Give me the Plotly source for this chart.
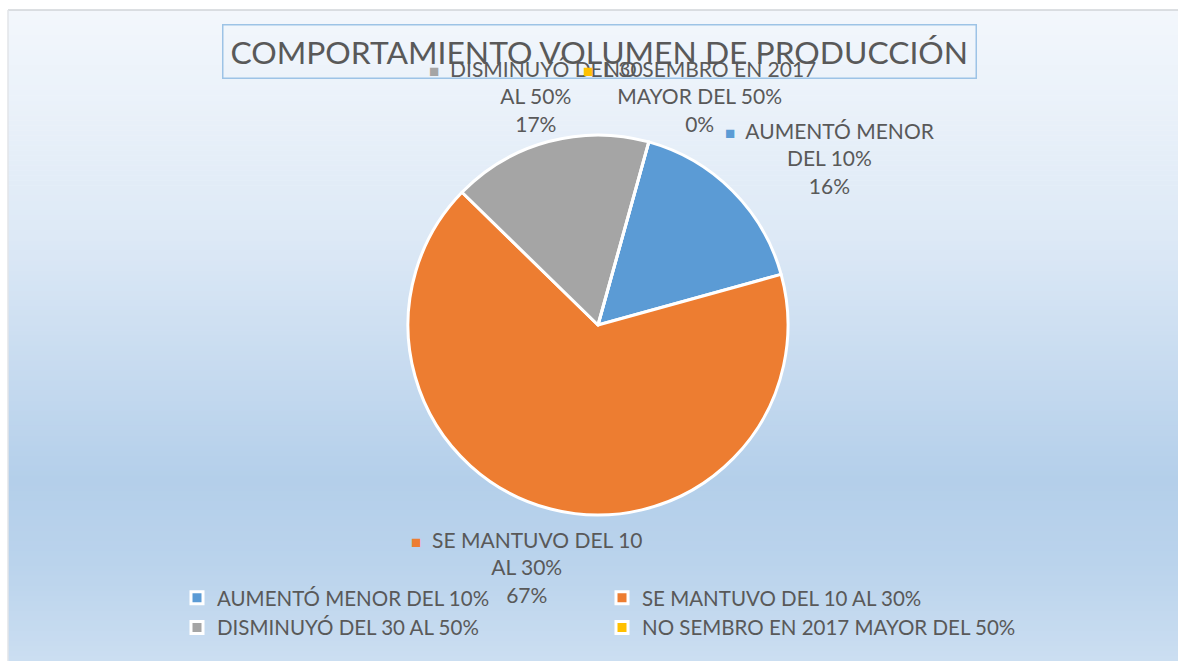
import plotly.graph_objects as go

# ---- data ----
categories = ["AUMENTÓ MENOR DEL 10%", "SE MANTUVO DEL 10 AL 30%",
              "DISMINUYÓ DEL 30 AL 50%", "NO SEMBRO EN 2017 MAYOR DEL 50%"]
values = [16.4, 66.6, 17.0, 0.0]
# wrapped versions of the category names, as shown in the data labels
label_lines = [["AUMENTÓ MENOR", "DEL 10%"],
               ["SE MANTUVO DEL 10", "AL 30%"],
               ["DISMINUYÓ DEL 30", "AL 50%"],
               ["NO SEMBRO EN 2017", "MAYOR DEL 50%"]]
colors = ["#5B9BD5", "#ED7D31", "#A5A5A5", "#FFC000"]
title = "COMPORTAMIENTO VOLUMEN DE PRODUCCIÓN"

W, H = 1178, 661
FONT = "Lato"
TXT = "#595959"

def px(x):
    return x / W

def py(y):
    return 1 - y / H

fig = go.Figure()
cx, cy, r = 598, 325, 190
fig.add_trace(go.Pie(
    labels=categories, values=values, sort=False, direction="clockwise",
    rotation=15.5, textinfo="none", hoverinfo="label+percent",
    marker=dict(colors=colors, line=dict(color="white", width=3)),
    domain=dict(x=[px(cx - r), px(cx + r)], y=[py(cy + r), py(cy - r)]),
))

# background gradient (chart area)
stops = [(0.0, (243, 247, 252)), (0.35, (221, 233, 246)), (0.72, (180, 207, 234)),
         (0.85, (186, 211, 236)), (1.0, (203, 222, 241))]

def grad(t):
    for (t0, c0), (t1, c1) in zip(stops[:-1], stops[1:]):
        if t0 <= t <= t1:
            f = (t - t0) / (t1 - t0) if t1 > t0 else 0
            return "rgb(%d,%d,%d)" % tuple(round(a + (b - a) * f) for a, b in zip(c0, c1))
    return "rgb(%d,%d,%d)" % stops[-1][1]

shapes = []
top, bot, left = 10, H, 8
n = 130
for i in range(n):
    y0 = top + (bot - top) * i / n
    y1 = top + (bot - top) * (i + 1) / n + 0.6
    shapes.append(dict(type="rect", xref="paper", yref="paper", layer="below",
                       x0=px(left), x1=1, y0=py(min(y1, H)), y1=py(y0),
                       line=dict(width=0), fillcolor=grad((i + 0.5) / n)))
shapes.append(dict(type="line", xref="paper", yref="paper", layer="below",
                   x0=px(left), x1=1, y0=py(top), y1=py(top),
                   line=dict(color="#D0D4D8", width=1.5)))
shapes.append(dict(type="line", xref="paper", yref="paper", layer="below",
                   x0=px(left), x1=px(left), y0=0, y1=py(top),
                   line=dict(color="#E2E5E8", width=1.5)))

annotations = []
# title in bordered box
annotations.append(dict(text=title, xref="paper", yref="paper", x=px(599), y=py(52),
                        showarrow=False, font=dict(family=FONT, size=31.8, color=TXT),
                        bordercolor="#9DC3E6", borderwidth=1.5, borderpad=7,
                        xanchor="center", yanchor="middle"))

# data labels
total = sum(values)
label_pos = [(830, 158), (527, 567), (536, 96), (700, 96)]
for cat_lines, v, col, (lx, ly) in zip(label_lines, values, colors, label_pos):
    pct = round(100 * v / total)
    txt = ("<span style='color:%s;font-size:17px'>■</span>  %s<br>%s<br>%d%%"
           % (col, cat_lines[0], cat_lines[1], pct))
    annotations.append(dict(text=txt, xref="paper", yref="paper", x=px(lx), y=py(ly),
                            showarrow=False, align="center", xanchor="center",
                            yanchor="middle", font=dict(family=FONT, size=21, color=TXT)))

fig.update_layout(
    width=W, height=H, margin=dict(l=0, r=0, t=0, b=0),
    paper_bgcolor="white", plot_bgcolor="rgba(0,0,0,0)",
    shapes=shapes, annotations=annotations,
    showlegend=True,
    legend=dict(orientation="h", x=px(177), y=py(578), xanchor="left", yanchor="top",
                entrywidth=380, entrywidthmode="pixels", bgcolor="rgba(0,0,0,0)",
                font=dict(family=FONT, size=20.5, color=TXT), traceorder="normal",
                itemwidth=30),
)

fig.write_html("out.html", config={"displayModeBar": False},
               post_script="document.body.style.margin='0';"
                           "document.body.style.overflow='hidden';")
